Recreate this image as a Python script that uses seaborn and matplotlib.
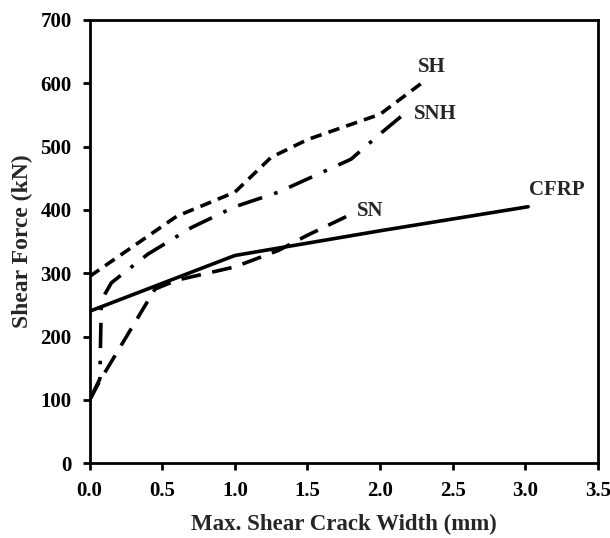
import matplotlib
matplotlib.use("Agg")
import matplotlib.pyplot as plt
import seaborn as sns
import pandas as pd

# Data
cfrp_x = [0.0, 1.0, 2.0, 3.02]
cfrp_y = [240, 328, 367, 405]

sh_x = [0.0, 0.6, 1.0, 1.25, 1.5, 2.0, 2.28]
sh_y = [295, 390, 428, 483, 511, 551, 599]

snh_x = [0.0, 0.07, 0.08, 0.1, 0.15, 0.4, 0.7, 1.0, 1.3, 1.8, 2.0, 2.2]
snh_y = [100, 133, 250, 265, 285, 330, 372, 405, 428, 480, 520, 558]

sn_x = [0.0, 0.07, 0.45, 0.6, 1.0, 1.3, 1.5, 1.8]
sn_y = [100, 130, 275, 289, 310, 336, 360, 393]

series_names = ["CFRP", "SH", "SNH", "SN"]
label_pos = {"SH": (2.36, 625), "SNH": (2.38, 552), "CFRP": (3.22, 432), "SN": (1.93, 398)}

x_ticks = [0.0, 0.5, 1.0, 1.5, 2.0, 2.5, 3.0, 3.5]
y_ticks = [0, 100, 200, 300, 400, 500, 600, 700]

frames = []
for name, xs, ys in [("CFRP", cfrp_x, cfrp_y), ("SH", sh_x, sh_y),
                     ("SNH", snh_x, snh_y), ("SN", sn_x, sn_y)]:
    frames.append(pd.DataFrame({"x": xs, "y": ys, "series": name}))
df = pd.concat(frames, ignore_index=True)

sns.set_style("ticks")
plt.rcParams['font.family'] = ['Liberation Serif', 'DejaVu Serif']
plt.rcParams['font.weight'] = 'bold'

fig = plt.figure(figsize=(6.10, 5.38), dpi=100)
ax = fig.add_axes([0.147, 0.139, 0.833, 0.824])

dashes = {"CFRP": "", "SH": (3.2, 2.0), "SNH": (7, 3.5, 1, 3.5), "SN": (5.5, 3.2)}
sns.lineplot(data=df, x="x", y="y", hue="series", style="series",
             palette={n: "black" for n in series_names}, dashes=dashes,
             sort=False, estimator=None, linewidth=2.6, legend=False, ax=ax)

for name, (lx, ly) in label_pos.items():
    ax.text(lx, ly, name, fontsize=15, fontweight='bold', ha='center', va='center',
            family='Liberation Serif')

ax.set_xlim(0, 3.5)
ax.set_ylim(0, 700)
ax.set_xticks(x_ticks)
ax.set_yticks(y_ticks)
ax.set_xticklabels([f"{v:.1f}" for v in x_ticks], fontsize=15, fontweight='bold')
ax.set_yticklabels([str(v) for v in y_ticks], fontsize=15, fontweight='bold')
ax.set_xlabel("Max. Shear Crack Width (mm)", fontsize=16.5, fontweight='bold', labelpad=9)
ax.set_ylabel("Shear Force (kN)", fontsize=17, fontweight='bold', labelpad=5)
for s in ax.spines.values():
    s.set_visible(True)
    s.set_linewidth(2.0)
    s.set_color("black")
ax.tick_params(axis='both', direction='out', length=5, width=2.0, colors='black', pad=8)

fig.savefig("out.png", dpi=100)
